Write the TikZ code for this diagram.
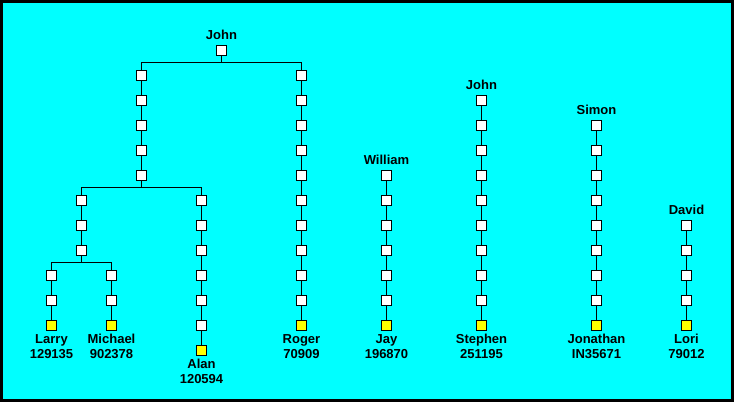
\documentclass[tikz,border=0pt]{standalone}
\usepackage{fontspec}
\setmainfont{Liberation Sans}
\usetikzlibrary{positioning}
\definecolor{screen}{RGB}{0,255,255}
\definecolor{leafyellow}{RGB}{255,255,0}

\begin{document}
\begin{tikzpicture}[x=1pt, y=-1pt,
    person/.style={rectangle, draw, fill=white, minimum size=10pt, inner sep=0pt, line width=1pt},
    link/.style={line width=1pt},
    toplabel/.style={font=\bfseries\fontsize{13}{15}\selectfont, inner sep=0pt, above=5pt of #1},
    idlabel/.style={font=\bfseries\fontsize{13}{15}\selectfont, inner sep=0pt, align=center, below=3pt of #1}
]
    \useasboundingbox (0,0) rectangle (734,402);
    \draw[line width=3pt, fill=screen] (1.5,1.5) rectangle (732.5,400.5);

    % root of the big tree
    \node[person] (john) at (221.5,50.5) {};

    % columns: name / x / first row / last row / last is a leaf
    \foreach \col/\x/\first/\last/\hasleaf in {left/141.5/1/5/0, lower/81.5/6/8/0,
        roger/301.5/1/11/1, alan/201.5/6/12/1, larry/51.5/9/11/1, michael/111.5/9/11/1,
        william/386.5/5/11/1, stephen/481.5/2/11/1, jonathan/596.5/3/11/1, lori/686.5/7/11/1}{
      \foreach \r in {\first,...,\last}{
        \def\fillc{white}
        \ifnum\r=\last \ifnum\hasleaf=1 \def\fillc{leafyellow}\fi\fi
        \node[person, fill=\fillc] (\col\r) at (\x,50.5+25*\r) {};
        \ifnum\r>\first
          \pgfmathtruncatemacro\p{\r-1}
          \draw[link] (\col\p) -- (\col\r);
        \fi
      }
    }

    % branches
    \draw[link] (john.south) -- ++(0,6.5) -| (left1.north);
    \draw[link] (john.south) -- ++(0,6.5) -| (roger1.north);
    \draw[link] (left5.south) -- ++(0,6.5) -| (lower6.north);
    \draw[link] (left5.south) -- ++(0,6.5) -| (alan6.north);
    \draw[link] (lower8.south) -- ++(0,6.5) -| (larry9.north);
    \draw[link] (lower8.south) -- ++(0,6.5) -| (michael9.north);

    % names on top
    \node[toplabel=john] (johnname) {John};
    \node[toplabel=william5] (williamname) {William};
    \node[toplabel=stephen2] (johnbname) {John};
    \node[toplabel=jonathan3] (simonname) {Simon};
    \node[toplabel=lori7] (davidname) {David};

    % names and numbers below the leaves
    \node[idlabel=larry11] (larryid) {Larry\\129135};
    \node[idlabel=michael11] (michaelid) {Michael\\902378};
    \node[idlabel=alan12] (alanid) {Alan\\120594};
    \node[idlabel=roger11] (rogerid) {Roger\\70909};
    \node[idlabel=william11] (jayid) {Jay\\196870};
    \node[idlabel=stephen11] (stephenid) {Stephen\\251195};
    \node[idlabel=jonathan11] (jonathanid) {Jonathan\\IN35671};
    \node[idlabel=lori11] (loriid) {Lori\\79012};
\end{tikzpicture}
\end{document}
